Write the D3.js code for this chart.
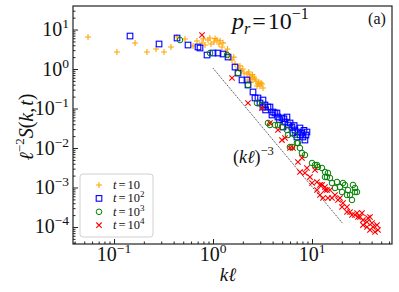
<!DOCTYPE html>
<html lang="en">
<head>
  <meta charset="UTF-8" />
  <title>Structure factor scaling</title>
  <script src="https://d3js.org/d3.v7.min.js"></script>
  <style>
    body { margin: 0; background: #fff; }
    svg text { font-family: "Liberation Serif", "DejaVu Serif", serif; fill: #111; }
    .it { font-style: italic; }
  </style>
</head>
<body>
  <div id="chart"></div>

  <script>
    // [kℓ, ℓ^-2 S(k,t)]
    const t1e1 = [[0.0546,6.46],[0.107,2.69],[0.163,4.55],[0.215,2.69],[0.266,3.21],[0.320,2.69],[0.376,3.61],
      [0.433,6.46],[0.521,5.75],[0.628,3.82],[0.689,5.11],[0.774,4.55],[0.830,4.05],[0.890,5.42],[0.954,4.30],
      [1.023,4.83],[1.097,5.42],[1.150,4.30],[1.233,3.61],[1.353,2.69],[1.451,2.13],[1.556,1.69],[1.668,1.34],
      [1.789,1.06],[1.918,0.89],[2.056,0.79],[2.204,0.75],[2.363,0.665],[2.476,0.558],[2.593,0.627],[2.717,0.497],
      [2.846,0.417],[2.981,0.371],[3.123,0.417],[3.196,0.33],[2.781,0.371],[2.256,0.527],[0.80,5.8],[0.93,6.1],
      [1.05,5.9],[1.18,5.2],[1.26,4.6],[1.40,3.2],[1.62,2.0],[1.87,1.2],[2.0,1.0],[2.3,0.84],[2.5,0.72],
      [2.65,0.56],[2.9,0.47],[3.05,0.44],[2.4,0.46]];
    const t1e2 = [[0.145,6.84],[0.285,4.30],[0.433,6.09],[0.559,4.05],[0.705,3.61],[0.739,3.40],[0.870,2.26],
      [1.0,2.54],[1.123,2.54],[1.262,2.40],[1.418,2.01],[1.668,1.12],[1.789,0.79],[1.963,0.527],[2.204,0.527],
      [2.256,0.394],[2.534,0.262],[2.654,0.185],[2.846,0.185],[2.981,0.138],[3.196,0.164],[3.196,0.109],
      [3.590,0.109],[3.761,0.109],[3.94,0.0685],[4.033,0.0815],[4.225,0.0769],[4.426,0.0769],[4.53,0.0609],
      [4.971,0.0575],[5.088,0.034],[5.33,0.0455],[5.584,0.0609],[5.715,0.0382],[6.272,0.034],[6.419,0.024],
      [6.725,0.0286],[7.045,0.019],[7.211,0.0254],[7.554,0.0321],[7.914,0.024],[8.1,0.019],[8.485,0.0159],
      [8.685,0.0213],[8.889,0.0254],[3.35,0.123],[3.4,0.092],[4.7,0.052],[5.2,0.055],[6.0,0.043],[6.6,0.037],
      [7.6,0.0215],[8.3,0.028]];
    const t1e3 = [[0.464,5.42],[0.933,2.54],[1.385,2.26],[1.789,0.79],[2.256,0.394],[2.781,0.138],[3.123,0.123],
      [3.59,0.043],[3.761,0.0382],[4.225,0.0382],[4.53,0.0382],[4.971,0.034],[5.584,0.0286],[5.715,0.0213],
      [5.987,0.0106],[6.272,0.0106],[6.725,0.0213],[7.045,0.0134],[7.211,0.0134],[7.554,0.01],[7.914,0.00747],
      [8.485,0.00665],[10,0.00417],[10.72,0.00371],[11.23,0.00371],[11.49,0.0033],[12.61,0.00312],[13.53,0.00247],
      [13.53,0.00184],[14.17,0.00184],[14.5,0.00233],[15.19,0.00174],[15.92,0.0013],[17.07,0.000971],
      [17.89,0.00138],[19.18,0.00103],[20.09,0.000769],[20.56,0.0013],[21.54,0.00116],[22.57,0.000646],
      [23.1,0.000865],[24.2,0.000646],[25.35,0.000483],[25.95,0.00116],[27.18,0.000769],[28.48,0.000769],
      [27.18,0.000971]];
    const t1e4 = [[0.774,7.26],[1.556,0.592],[2.256,0.138],[3.123,0.103],[3.761,0.043],[4.53,0.0286],[4.971,0.0159],
      [5.33,0.0179],[5.987,0.01],[6.419,0.01],[7.211,0.00442],[7.554,0.00247],[7.914,0.00558],[8.485,0.00233],
      [8.889,0.00312],[9.54,0.00184],[10,0.0013],[10.72,0.00277],[11.23,0.00138],[11.23,0.000865],[12.04,0.00116],
      [12.04,0.000646],[12.61,0.00116],[12.91,0.000542],[13.53,0.00103],[13.53,0.000865],[14.17,0.000865],
      [14.5,0.000542],[15.19,0.000865],[15.92,0.000542],[17.07,0.000646],[18.31,0.000483],[19.18,0.000542],
      [20.09,0.000321],[20.56,0.000405],[22.57,0.000321],[22.57,0.00024],[24.2,0.00024],[25.35,0.000201],
      [27.18,0.000201],[28.48,0.000226],[29.15,0.000179],[30.54,0.000179],[31.99,0.000226],[32.74,0.00015],
      [32.74,0.000112],[35.94,0.000134],[35.94,0.0001],[36.79,0.000169],[38.54,0.000179],[38.54,0.000084],
      [40.37,0.000126],[41.32,0.0001],[43.29,0.0000747],[45.35,0.000112],[46.42,0.000084]];

    const series = [
      { exp: null, base: '10', data: t1e1, color: '#ffa500', marker: 'plus' },
      { exp: '2', base: '10', data: t1e2, color: '#0000ff', marker: 'square' },
      { exp: '3', base: '10', data: t1e3, color: '#008000', marker: 'circle' },
      { exp: '4', base: '10', data: t1e4, color: '#ff0000', marker: 'cross' }
    ];

    const guideK = [1.0, 20.5];   // (kℓ)^-3 guide line
    const guideAmp = 1.05;
    const xMajor = [0.1, 1, 10];
    const yMajor = [1e-4, 1e-3, 1e-2, 1e-1, 1, 10];
    const xExp = ['−1', '0', '1'];
    const yExp = ['−4', '−3', '−2', '−1', '0', '1'];

    const W = 399, H = 292;
    const margin = { top: 6, right: 7, bottom: 48, left: 73 };
    const iw = W - margin.left - margin.right, ih = H - margin.top - margin.bottom;

    const svg = d3.select('#chart').append('svg').attr('width', W).attr('height', H);
    const g = svg.append('g').attr('transform', `translate(${margin.left},${margin.top})`);

    const x = d3.scaleLog().domain([0.0385, 64.3]).range([0, iw]);
    const y = d3.scaleLog().domain([3.71e-5, 39.4]).range([ih, 0]);

    const minors = (lo, hi) => {
      const out = [];
      for (let e = lo; e <= hi; e++) for (let m = 2; m <= 9; m++) out.push(m * Math.pow(10, e));
      return out;
    };
    const xMinor = minors(-2, 1).filter(v => v > x.domain()[0] && v < x.domain()[1]);
    const yMinor = minors(-5, 1).filter(v => v > y.domain()[0] && v < y.domain()[1]);

    // ticks, pointing inward
    const tickAxis = (sel, axis) => { sel.call(axis); sel.select('.domain').remove(); sel.selectAll('line').attr('stroke', '#222'); };
    g.append('g').attr('transform', `translate(0,${ih})`)
      .call(s => tickAxis(s, d3.axisBottom(x).tickValues(xMajor).tickSize(-5).tickFormat('')));
    g.append('g').attr('transform', `translate(0,${ih})`)
      .call(s => tickAxis(s, d3.axisBottom(x).tickValues(xMinor).tickSize(-2.5).tickFormat('')));
    g.append('g')
      .call(s => tickAxis(s, d3.axisLeft(y).tickValues(yMajor).tickSize(-5).tickFormat('')));
    g.append('g')
      .call(s => tickAxis(s, d3.axisLeft(y).tickValues(yMinor).tickSize(-2.5).tickFormat('')));

    // tick labels 10^n
    const xl = g.selectAll('.xl').data(xMajor).join('text')
      .attr('x', d => x(d)).attr('y', ih + 17).attr('text-anchor', 'middle').attr('font-size', 20);
    xl.append('tspan').text('10');
    xl.append('tspan').attr('dy', -8).attr('font-size', 13.5).text((d, i) => xExp[i]);

    const yl = g.selectAll('.yl').data(yMajor).join('text')
      .attr('x', -4).attr('y', d => y(d) + 6.5).attr('text-anchor', 'end').attr('font-size', 20);
    yl.append('tspan').text('10');
    yl.append('tspan').attr('dy', -8).attr('font-size', 13.5).text((d, i) => yExp[i]);

    // guide line
    const line = d3.line().x(d => x(d)).y(d => y(guideAmp * Math.pow(d, -3)));
    g.append('path').datum(guideK).attr('d', line)
      .attr('fill', 'none').attr('stroke', '#333').attr('stroke-width', 0.9).attr('stroke-dasharray', '1.2,1');

    const marker = (sel, type, color) => {
      if (type === 'circle') {
        sel.append('circle').attr('r', 2.8).attr('fill', 'none').attr('stroke', color).attr('stroke-width', 1);
      } else if (type === 'square') {
        sel.append('rect').attr('x', -2.8).attr('y', -2.8).attr('width', 5.6).attr('height', 5.6)
          .attr('fill', 'none').attr('stroke', color).attr('stroke-width', 1.1);
      } else if (type === 'plus') {
        sel.append('path').attr('d', 'M-3,0H3M0,-3V3').attr('stroke', color).attr('stroke-width', 1.1);
      } else {
        sel.append('path').attr('d', 'M-2.7,-2.7L2.7,2.7M-2.7,2.7L2.7,-2.7').attr('stroke', color).attr('stroke-width', 1.1);
      }
    };

    series.forEach(s => {
      g.append('g').selectAll('g').data(s.data).join('g')
        .attr('transform', d => `translate(${x(d[0])},${y(d[1])})`)
        .each(function () { marker(d3.select(this), s.marker, s.color); });
    });

    // frame
    g.append('rect').attr('width', iw).attr('height', ih)
      .attr('fill', 'none').attr('stroke', '#222').attr('stroke-width', 1.2);

    // annotations
    const gl = g.append('text').attr('x', 160).attr('y', 157).attr('font-size', 18);
    gl.append('tspan').text('(');
    gl.append('tspan').attr('class', 'it').text('kℓ');
    gl.append('tspan').text(')');
    gl.append('tspan').attr('dy', -8).attr('font-size', 12.5).text('−3');

    const tt = svg.append('text').attr('x', 232).attr('y', 29).attr('font-size', 24);
    tt.append('tspan').attr('class', 'it').text('p');
    tt.append('tspan').attr('class', 'it').attr('dy', 5).attr('font-size', 16).text('r');
    tt.append('tspan').attr('dy', -5).attr('dx', 2).text('=');
    tt.append('tspan').attr('dx', 2).text('10');
    tt.append('tspan').attr('dy', -10).attr('font-size', 16).text('−1');

    svg.append('text').attr('x', 377).attr('y', 24).attr('text-anchor', 'middle').attr('font-size', 16).text('(a)');

    const xt = svg.append('text').attr('x', 228).attr('y', 281).attr('text-anchor', 'middle').attr('font-size', 19).attr('class', 'it');
    xt.text('kℓ');

    const yt = svg.append('text').attr('transform', 'translate(33,127) rotate(-90)').attr('text-anchor', 'middle').attr('font-size', 20);
    yt.append('tspan').attr('class', 'it').text('ℓ');
    yt.append('tspan').attr('dy', -9).attr('font-size', 13).text('−2');
    yt.append('tspan').attr('dy', 9).attr('class', 'it').text('S');
    yt.append('tspan').text('(');
    yt.append('tspan').attr('class', 'it').text('k');
    yt.append('tspan').text(',');
    yt.append('tspan').attr('dx', 2).attr('class', 'it').text('t');
    yt.append('tspan').text(')');

    // legend
    const lg = svg.append('g').attr('transform', 'translate(80,174)');
    lg.append('rect').attr('width', 73).attr('height', 63).attr('rx', 3)
      .attr('fill', 'rgba(255,255,255,0.85)').attr('stroke', '#d0d0d0').attr('stroke-width', 1);
    series.forEach((s, i) => {
      const row = lg.append('g').attr('transform', `translate(19,${11 + i * 13.4})`);
      marker(row, s.marker, s.color);
      const txt = row.append('text').attr('x', 14).attr('y', 4).attr('font-size', 12.5);
      txt.append('tspan').attr('class', 'it').text('t');
      txt.append('tspan').attr('dx', 2).text('=');
      txt.append('tspan').attr('dx', 2).text(s.base);
      if (s.exp) txt.append('tspan').attr('dy', -5).attr('font-size', 9).text(s.exp);
    });
  </script>
</body>
</html>
